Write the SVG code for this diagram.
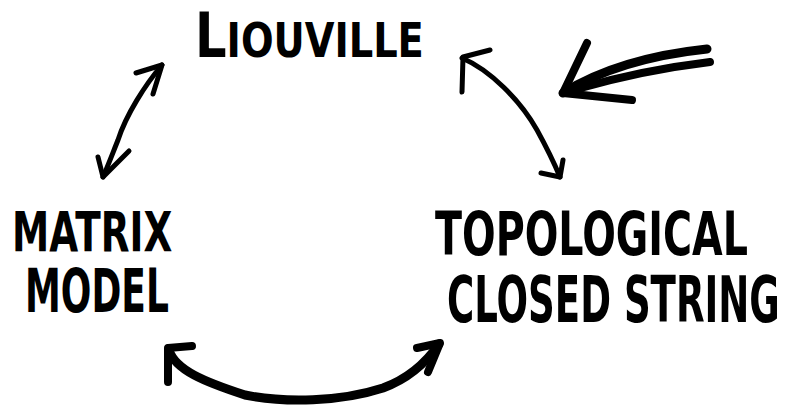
<svg xmlns="http://www.w3.org/2000/svg" width="785" height="405" viewBox="0 0 785 405">
<style>
  .lbl { font-family: "DejaVu Sans", "Liberation Sans", sans-serif; font-weight: bold; fill: #000; }
  .ink { fill: none; stroke: #000; stroke-linecap: round; stroke-linejoin: round; }
</style>
<rect width="785" height="405" fill="#fff"/>
<g id="node-liouville">
  <text class="lbl" transform="translate(195,57) scale(0.8,1)"><tspan font-size="62">L</tspan><tspan font-size="48">IOUVILLE</tspan></text>
</g>
<g id="node-matrix-model">
  <text class="lbl" transform="translate(12,251) scale(0.68,1)" font-size="55">MATRIX</text>
  <text class="lbl" transform="translate(25,312) scale(0.6,1)" font-size="60">MODEL</text>
</g>
<g id="node-topological">
  <text class="lbl" transform="translate(435,255) scale(0.66,1)" font-size="60">TOPOLOGICAL</text>
  <text class="lbl" transform="translate(447,322) scale(0.58,1)" font-size="64">CLOSED STRING</text>
</g>
<g id="connectors">
  <path class="ink" stroke-width="5" d="M162,65 C145,85 126,115 118,140 C112,155 107,168 103,177"/>
  <path class="ink" stroke-width="5" d="M136,73 L162,65 L153,94"/>
  <path class="ink" stroke-width="5" d="M98,157 L103,177 L129,151"/>
  <path class="ink" stroke-width="5" d="M462,58 C490,70 520,100 537,130 C548,150 555,165 560,177"/>
  <path class="ink" stroke-width="5" d="M490,50 L463,57 L462,92"/>
  <path class="ink" stroke-width="5" d="M541,173 L560,177 L563,160"/>
  <path class="ink" stroke-width="9" d="M169,350 C175,370 205,382 245,395 C285,403 340,402 383,388 C410,378 428,360 439,344"/>
  <path class="ink" stroke-width="8" d="M192,346 L168,348 L168,382"/>
  <path class="ink" stroke-width="8" d="M417,348 L440,343 L428,372"/>
  <path class="ink" stroke-width="9" d="M563,93 C600,70 650,55 707,49"/>
  <path class="ink" stroke-width="8" d="M577,89 C615,78 660,68 710,62"/>
  <path class="ink" stroke-width="8" d="M587,43 L563,93 L632,100"/>
</g>
</svg>
